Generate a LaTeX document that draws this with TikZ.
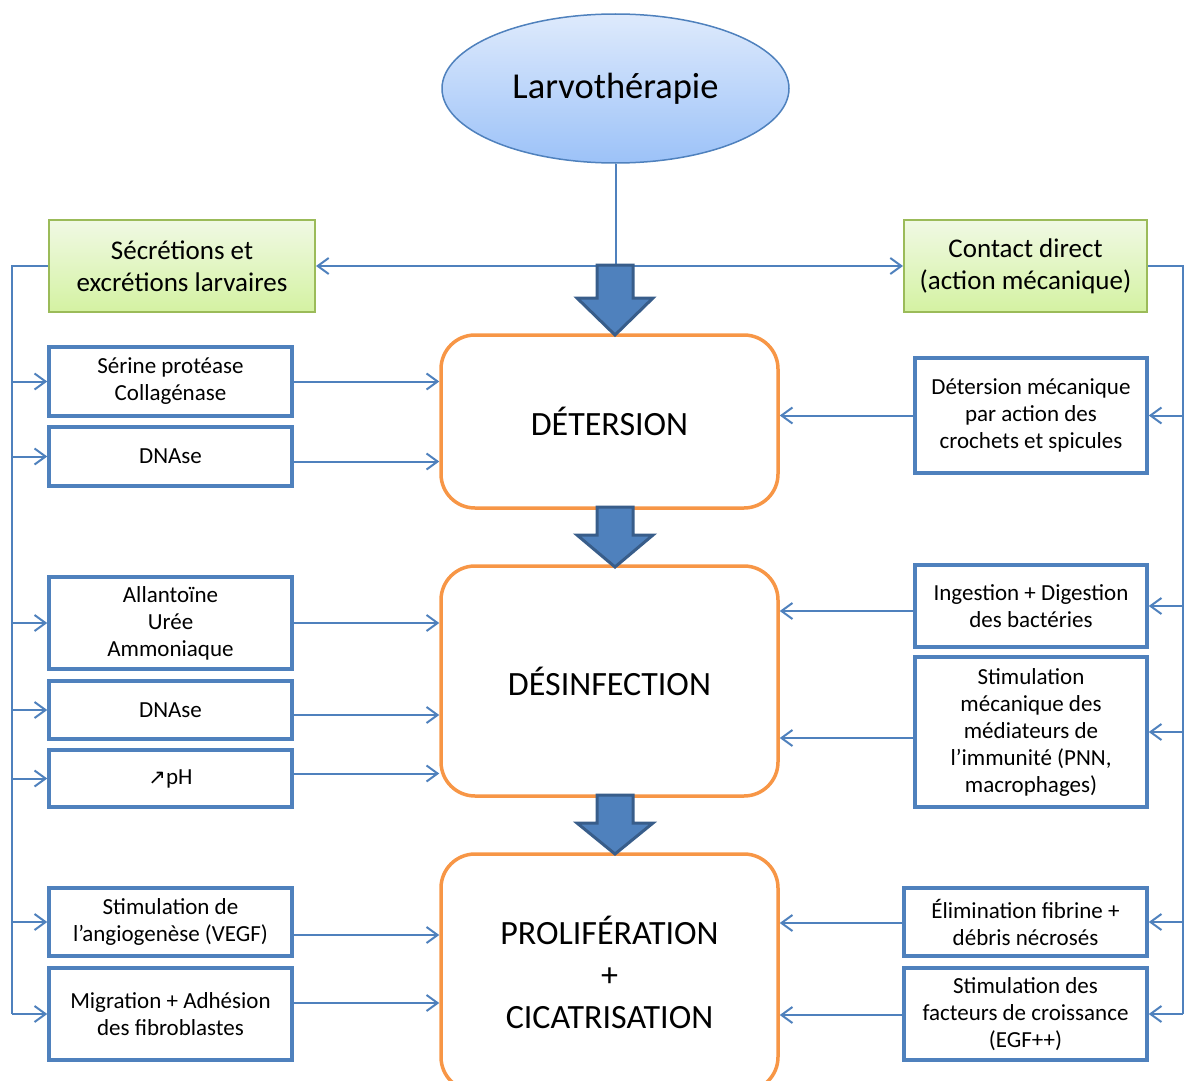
\documentclass[tikz,border=0pt]{standalone}
\usepackage{fontspec}
\setmainfont{Carlito}
\newfontfamily\symfnt{DejaVu Sans}
\usetikzlibrary{arrows.meta,shapes.geometric,calc}
\definecolor{lblue}{HTML}{4F81BD}
\definecolor{dblue}{HTML}{385D8A}
\definecolor{orng}{HTML}{F79646}
\definecolor{gborder}{HTML}{9BBB59}
\definecolor{gtop}{HTML}{F0F9E4}
\definecolor{gbot}{HTML}{D4F2A2}
\definecolor{etop}{HTML}{DEEAFC}
\definecolor{ebot}{HTML}{9CC2F8}
\tikzset{
 bluebox/.style={draw=lblue, line width=3.5pt, fill=white, align=center, inner sep=2pt, font=\fontsize{23}{27}\selectfont},
 greenbox/.style={draw=gborder, line width=2pt, top color=gtop, bottom color=gbot, align=center, font=\fontsize{27}{32}\selectfont},
 orangebox/.style={draw=orng, line width=3.5pt, fill=white, rounded corners=34pt, align=center, font=\fontsize{34}{42}\selectfont},
 conn/.style={draw=lblue, line width=2pt},
 arr/.style={conn, -{Straight Barb[length=11pt,width=16pt]}},
 blk/.style={draw=dblue, line width=3pt, fill=lblue, line join=miter},
}
\newcommand{\blkarrow}[4]{%
 \draw[blk] (#1-18,#2) -- (#1+18,#2) -- (#1+18,#3) -- (#1+38,#3) -- (#1,#4) -- (#1-38,#3) -- (#1-18,#3) -- cycle;}
\newcommand{\lconnect}[3]{\path ($(#1.east)+(0,#3)$) coordinate (tmpA); \draw[arr] (tmpA) -- (tmpA -| #2.west);}
\newcommand{\rconnect}[3]{\path ($(#1.west)+(0,#3)$) coordinate (tmpB); \draw[arr] (tmpB) -- (tmpB -| #2.east);}
\begin{document}
\begin{tikzpicture}[x=1pt,y=-1pt]
\useasboundingbox (0,0) rectangle (1184,1081);
\clip (0,0) rectangle (1184,1081);

% top ellipse
\node[ellipse, draw=lblue, line width=1.5pt, top color=etop, bottom color=ebot, minimum width=347pt, minimum height=149pt, inner sep=0pt, font=\fontsize{36.5}{43}\selectfont] (ell) at (615.5,88.5) {Larvothérapie};

% green boxes
\node[greenbox, minimum width=266pt, minimum height=92pt] (g1) at (182,266) {Sécrétions et\\excrétions larvaires};
\node[greenbox, minimum width=243pt, minimum height=92pt] (g2) at (1025.5,266) {Contact direct\\(action mécanique)};

% orange boxes
\node[orangebox, minimum width=337pt, minimum height=173pt] (o1) at (609.5,421.5) {DÉTERSION};
\node[orangebox, minimum width=337pt, minimum height=230pt] (o2) at (609.5,681) {DÉSINFECTION};
\node[orangebox, minimum width=337pt, minimum height=237pt] (o3) at (609.5,972.5) {PROLIFÉRATION\\+\\CICATRISATION};

% left boxes
\node[bluebox, minimum width=243pt, minimum height=69pt] (s1) at (170.5,381.5) {Sérine protéase\\Collagénase};
\node[bluebox, minimum width=243pt, minimum height=59pt] (s2) at (170.5,456.5) {DNAse};
\node[bluebox, minimum width=243pt, minimum height=92pt] (s3) at (170.5,623) {Allantoïne\\Urée\\Ammoniaque};
\node[bluebox, minimum width=243pt, minimum height=58pt] (s4) at (170.5,710) {DNAse};
\node[bluebox, minimum width=243pt, minimum height=57pt] (s5) at (170.5,778.5) {{\symfnt\fontsize{21}{24}\selectfont ↗}pH};
\node[bluebox, minimum width=243pt, minimum height=68pt] (s6) at (170.5,922) {Stimulation de\\l’angiogenèse (VEGF)};
\node[bluebox, minimum width=243pt, minimum height=92pt] (s7) at (170.5,1014) {Migration + Adhésion\\des fibroblastes};

% right boxes
\node[bluebox, minimum width=232pt, minimum height=115pt] (c1) at (1031,415.5) {Détersion mécanique\\par action des\\crochets et spicules};
\node[bluebox, minimum width=232pt, minimum height=82pt] (c2) at (1031,606) {Ingestion + Digestion\\des bactéries};
\node[bluebox, minimum width=232pt, minimum height=150pt] (c3) at (1031,732) {Stimulation\\mécanique des\\médiateurs de\\l’immunité (PNN,\\macrophages)};
\node[bluebox, minimum width=243pt, minimum height=68pt] (c4) at (1025.5,922) {Élimination fibrine +\\débris nécrosés};
\node[bluebox, minimum width=243pt, minimum height=92pt] (c5) at (1025.5,1014) {Stimulation des\\facteurs de croissance\\(EGF++)};

% top connectors
\coordinate (j) at (ell.south |- g1.east);
\draw[conn] (ell.south) -- (j);
\draw[arr] (j) -- (g1.east);
\draw[arr] (j) -- (g2.west);

% left trunk
\coordinate (LT) at (12,266);
\draw[conn] (g1.west) -- (LT) -- (LT |- s7.west);
\foreach \n in {s1,s2,s3,s4,s5,s6,s7} \draw[arr] (LT |- \n.west) -- (\n.west);

% right trunk
\coordinate (RT) at (1183,266);
\draw[conn] (g2.east) -- (RT) -- (RT |- c5.east);
\foreach \n in {c1,c2,c3,c4,c5} \draw[arr] (RT |- \n.east) -- (\n.east);

% left boxes to orange
\lconnect{s1}{o1}{0}
\lconnect{s2}{o1}{5}
\lconnect{s3}{o2}{0}
\lconnect{s4}{o2}{5}
\lconnect{s5}{o2}{-5}
\lconnect{s6}{o3}{13}
\lconnect{s7}{o3}{-11}

% right boxes to orange
\rconnect{c1}{o1}{0}
\rconnect{c2}{o2}{5}
\rconnect{c3}{o2}{6}
\rconnect{c4}{o3}{1}
\rconnect{c5}{o3}{1}

% block arrows
\blkarrow{615}{265}{298}{335}
\blkarrow{615}{507}{535}{567}
\blkarrow{615}{795}{823}{854}
\end{tikzpicture}
\end{document}
